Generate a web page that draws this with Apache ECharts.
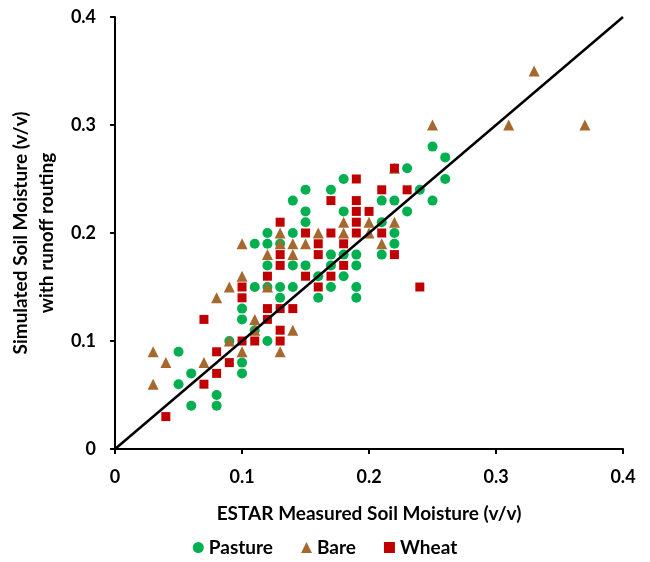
<!DOCTYPE html>
<html><head><meta charset="utf-8">
<script src="https://cdn.jsdelivr.net/npm/echarts@6/dist/echarts.min.js"></script>
<style>html,body{margin:0;padding:0;background:#fff}#c{width:650px;height:562px}</style>
</head><body><div id="c"></div><script>
// Measured (ESTAR) vs simulated soil moisture, v/v
const pasture = [[0.05,0.09],[0.05,0.06],[0.06,0.07],[0.06,0.04],[0.08,0.05],[0.08,0.04],[0.09,0.10],[0.10,0.13],[0.10,0.12],[0.10,0.08],[0.10,0.07],[0.11,0.19],[0.11,0.15],[0.11,0.11],[0.12,0.20],[0.12,0.19],[0.12,0.17],[0.12,0.15],[0.12,0.10],[0.13,0.19],[0.13,0.15],[0.13,0.14],[0.14,0.23],[0.14,0.20],[0.14,0.17],[0.14,0.15],[0.15,0.24],[0.15,0.22],[0.15,0.21],[0.15,0.17],[0.16,0.16],[0.16,0.14],[0.17,0.24],[0.17,0.18],[0.17,0.17],[0.17,0.15],[0.18,0.25],[0.18,0.22],[0.18,0.18],[0.18,0.16],[0.19,0.18],[0.19,0.17],[0.19,0.15],[0.19,0.14],[0.21,0.23],[0.21,0.21],[0.21,0.18],[0.22,0.23],[0.22,0.20],[0.22,0.19],[0.23,0.26],[0.23,0.22],[0.24,0.24],[0.25,0.28],[0.25,0.23],[0.26,0.27],[0.26,0.25]];
const bare = [[0.03,0.09],[0.03,0.06],[0.04,0.08],[0.07,0.08],[0.08,0.14],[0.09,0.15],[0.09,0.10],[0.10,0.19],[0.10,0.16],[0.10,0.09],[0.11,0.12],[0.11,0.11],[0.12,0.18],[0.12,0.15],[0.13,0.20],[0.13,0.19],[0.13,0.09],[0.14,0.19],[0.14,0.18],[0.14,0.11],[0.15,0.19],[0.16,0.20],[0.18,0.21],[0.18,0.20],[0.20,0.21],[0.20,0.20],[0.21,0.19],[0.22,0.21],[0.22,0.26],[0.25,0.30],[0.31,0.30],[0.33,0.35],[0.37,0.30]];
const wheat = [[0.04,0.03],[0.07,0.12],[0.07,0.06],[0.08,0.09],[0.08,0.07],[0.09,0.08],[0.10,0.15],[0.10,0.14],[0.10,0.10],[0.11,0.10],[0.12,0.16],[0.12,0.13],[0.12,0.12],[0.13,0.21],[0.13,0.18],[0.13,0.17],[0.13,0.13],[0.13,0.11],[0.13,0.10],[0.14,0.13],[0.15,0.20],[0.15,0.16],[0.16,0.19],[0.16,0.18],[0.16,0.15],[0.17,0.23],[0.17,0.20],[0.17,0.16],[0.18,0.19],[0.18,0.17],[0.19,0.25],[0.19,0.23],[0.19,0.22],[0.19,0.21],[0.19,0.20],[0.20,0.22],[0.21,0.24],[0.21,0.20],[0.22,0.26],[0.22,0.18],[0.23,0.24],[0.24,0.15]];
const oneToOne = [[0, 0], [0.4, 0.4]];
const seriesNames = ['Pasture', 'Bare', 'Wheat'];
const xTitle = 'ESTAR Measured Soil Moisture (v/v)';
const yTitle = 'Simulated Soil Moisture (v/v)\nwith runoff routing';

const FONT = 'Lato, "Open Sans", sans-serif';
const chart = echarts.init(document.getElementById('c'));
const labelStyle = { color: '#000', fontSize: 18, fontWeight: 'bold', fontFamily: FONT };
const titleStyle = { color: '#000', fontSize: 19, fontWeight: 'bold', fontFamily: FONT };
const axisCommon = {
  type: 'value', min: 0, max: 0.4, interval: 0.1,
  splitLine: { show: false },
  axisLine: { show: true, lineStyle: { color: '#000', width: 2 } },
  axisTick: { show: true, length: 5, lineStyle: { color: '#000', width: 2 } },
  nameLocation: 'middle'
};
chart.setOption({
  animation: false,
  grid: { left: 110, right: 27, top: 17, bottom: 113, containLabel: false },
  xAxis: Object.assign({}, axisCommon, {
    name: xTitle, nameGap: 55, nameTextStyle: titleStyle,
    axisLabel: Object.assign({}, labelStyle, { margin: 19 })
  }),
  yAxis: Object.assign({}, axisCommon, {
    name: yTitle, nameGap: 50,
    nameTextStyle: Object.assign({}, titleStyle, { lineHeight: 26 }),
    axisLabel: Object.assign({}, labelStyle, { margin: 19 })
  }),
  legend: {
    bottom: 0, left: 'center', itemWidth: 11, itemHeight: 11, itemGap: 28,
    textStyle: titleStyle,
    data: [
      { name: seriesNames[0], icon: 'circle' },
      { name: seriesNames[1], icon: 'triangle' },
      { name: seriesNames[2], icon: 'rect' }
    ]
  },
  series: [
    { name: seriesNames[0], type: 'scatter', symbol: 'circle', symbolSize: 10,
      itemStyle: { color: '#00B050', opacity: 1 }, data: pasture },
    { name: seriesNames[1], type: 'scatter', symbol: 'triangle', symbolSize: 11,
      itemStyle: { color: '#A5692F', opacity: 1 }, data: bare },
    { name: seriesNames[2], type: 'scatter', symbol: 'rect', symbolSize: 9,
      itemStyle: { color: '#C00000', opacity: 1 }, data: wheat },
    { type: 'line', data: oneToOne, symbol: 'none', silent: true, z: 5,
      lineStyle: { color: '#000', width: 2.5 } }
  ]
});
</script></body></html>
